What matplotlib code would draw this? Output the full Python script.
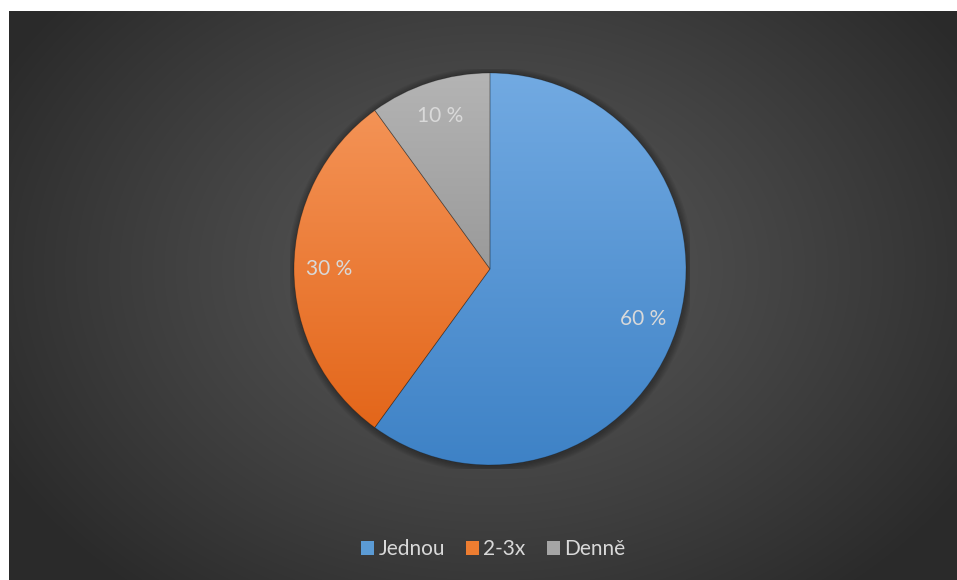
import numpy as np
import matplotlib.pyplot as plt
from matplotlib.patches import Patch, Circle
from matplotlib.colors import LinearSegmentedColormap

plt.rcParams['font.family'] = ['Lato', 'DejaVu Sans']

labels = ['Jednou', '2-3x', 'Denně']
values = [60, 30, 10]
# light top, dark bottom for each wedge
top_colors = ['#72aae2', '#f49356', '#b4b4b4']
bottom_colors = ['#3e82c6', '#e3661a', '#9a9a9a']
legend_colors = ['#5b9bd5', '#ed7d31', '#a5a5a5']
text_color = '#d9d9d9'

W, H = 957, 580
fig = plt.figure(figsize=(W / 100, H / 100), dpi=100, facecolor='white')

# dark background with radial gradient
bg = fig.add_axes([9 / W, 0, (W - 9) / W, (H - 11) / H])
bg.set_axis_off()
yy, xx = np.mgrid[0:569, 0:948]
cx, cy = 481, 258
r = np.sqrt(((xx - cx) / 560.0) ** 2 + ((yy - cy) / 420.0) ** 2)
r = np.clip(r, 0, 1)
shade = 0.345 - (0.345 - 0.165) * r ** 1.2
bg.imshow(np.dstack([shade, shade, shade]), aspect='auto', extent=(0, 1, 0, 1),
          interpolation='bilinear')
bg.set_xlim(0, 1)
bg.set_ylim(0, 1)

# pie axes: centre at (490, 269) px, radius 196 px
R = 196
half = 200
ax = fig.add_axes([(490 - half) / W, (H - 269 - half) / H, 2 * half / W, 2 * half / H])
ax.set_axis_off()
lim = half / R

# soft shadow around the pie
for k in range(6):
    ax.add_patch(Circle((0.004, -0.006), 1 + 0.006 * (k + 1), color='black',
                        alpha=0.05, lw=0, zorder=0))

wedges, texts, autotexts = ax.pie(
    values, startangle=90, counterclock=False, radius=1,
    colors=legend_colors, autopct=lambda p: '%d %%' % round(p),
    pctdistance=0.82, wedgeprops=dict(edgecolor=(0, 0, 0, 0.25), linewidth=0.6),
    textprops=dict(color=text_color, fontsize=15))

for w, c0, c1 in zip(wedges, top_colors, bottom_colors):
    bb = w.get_path().get_extents(w.get_patch_transform())
    cmap = LinearSegmentedColormap.from_list('g', [c1, c0])
    grad = np.linspace(0, 1, 256).reshape(-1, 1)
    im = ax.imshow(grad, cmap=cmap, origin='lower', aspect='auto',
                   extent=(bb.x0, bb.x1, bb.y0, bb.y1), zorder=1.5)
    im.set_clip_path(w)
    w.set_zorder(1)
    w.set_facecolor('none')
    w.set_zorder(2)

for t in autotexts:
    t.set_zorder(3)

ax.set_xlim(-lim, lim)
ax.set_ylim(-lim, lim)

handles = [Patch(facecolor=c, edgecolor='none') for c in legend_colors]
leg = fig.legend(handles, labels, loc='center', bbox_to_anchor=(493 / W, 31 / H),
                 ncol=3, frameon=False, fontsize=15, labelcolor=text_color,
                 handlelength=0.65, handleheight=0.65, handletextpad=0.2,
                 columnspacing=1.0)

fig.savefig('out.png', dpi=100, facecolor='white')
